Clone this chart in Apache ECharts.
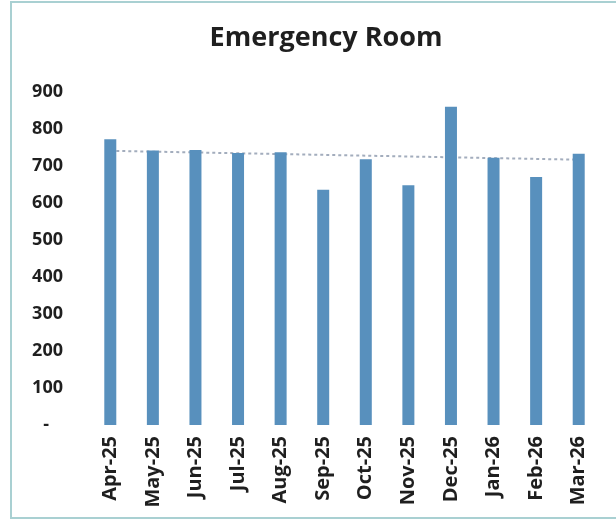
<!DOCTYPE html>
<html>
<head>
<meta charset="utf-8">
<script src="https://cdn.jsdelivr.net/npm/echarts@6/dist/echarts.min.js"></script>
<style>
  html, body { margin: 0; padding: 0; background: #fff; }
  #main { width: 616px; height: 529px; }
</style>
</head>
<body>
<div id="main"></div>
<script>
const months = ['Apr-25', 'May-25', 'Jun-25', 'Jul-25', 'Aug-25', 'Sep-25', 'Oct-25', 'Nov-25', 'Dec-25', 'Jan-26', 'Feb-26', 'Mar-26']
const visits = [772, 742, 743, 735, 737, 636, 718, 648, 860, 722, 670, 733]
// trend line ends
const trendStart = 741
const trendEnd = 717

const chart = echarts.init(document.getElementById('main'))
const font = 'Open Sans'
const ink = '#1f1f1f'

const option = {
  backgroundColor: '#fff',
  animation: false,
  title: {
    text: 'Emergency Room',
    left: 321,
    textAlign: 'center',
    top: 20,
    textStyle: { fontFamily: font, fontWeight: 'bold', fontSize: 27, color: ink }
  },
  graphic: [{
    type: 'rect',
    shape: { x: 11, y: 2, width: 612, height: 516 },
    style: { fill: 'none', stroke: '#a9d0d2', lineWidth: 2 },
    silent: true
  }],
  grid: { left: 89, right: 16, top: 92, bottom: 104 },
  xAxis: {
    type: 'category',
    data: months,
    axisLine: { show: false },
    axisTick: { show: false },
    axisLabel: {
      rotate: 90,
      margin: 11,
      interval: 0,
      fontFamily: font,
      fontWeight: 'bold',
      fontSize: 20,
      color: ink
    }
  },
  yAxis: {
    type: 'value',
    min: 0,
    max: 900,
    interval: 100,
    splitLine: { show: false },
    axisLine: { show: false },
    axisTick: { show: false },
    axisLabel: {
      margin: 26,
      fontFamily: font,
      fontWeight: 'bold',
      fontSize: 18,
      color: ink,
      formatter: v => v === 0 ? '{d|-}' : String(v),
      rich: {
        d: { fontFamily: font, fontWeight: 'bold', fontSize: 18, color: ink, padding: [0, 14, 0, 0] }
      }
    }
  },
  series: [{
    type: 'bar',
    data: visits,
    barWidth: 12,
    z: 3,
    itemStyle: { color: '#5890bd' },
    markLine: {
      silent: true,
      symbol: 'none',
      z: 1,
      label: { show: false },
      lineStyle: { type: [3, 3], width: 2, color: '#a3adbd' },
      data: [[
        { coord: [months[0], trendStart] },
        { coord: [months[months.length - 1], trendEnd] }
      ]]
    }
  }]
}

chart.setOption(option)
</script>
</body>
</html>
